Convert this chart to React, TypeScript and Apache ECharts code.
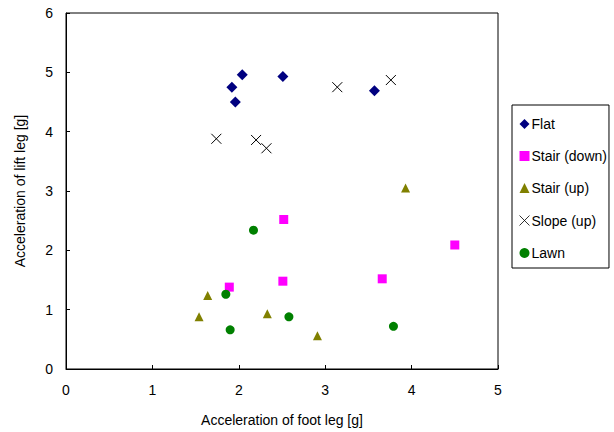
import React, { useEffect, useRef } from "react";
import * as echarts from "echarts";

const flat: [number, number][] = [[2.04, 4.96], [1.92, 4.75], [1.96, 4.5], [2.51, 4.93], [3.57, 4.69]];
const stairDown: [number, number][] = [[2.52, 2.52], [4.5, 2.09], [1.89, 1.38], [2.51, 1.48], [3.66, 1.52]];
const stairUp: [number, number][] = [[3.93, 3.05], [1.64, 1.24], [1.54, 0.88], [2.33, 0.93], [2.91, 0.56]];
const slopeUp: [number, number][] = [[1.74, 3.88], [2.2, 3.86], [2.32, 3.72], [3.14, 4.75], [3.76, 4.87]];
const lawn: [number, number][] = [[2.17, 2.34], [1.85, 1.26], [1.9, 0.66], [2.58, 0.88], [3.79, 0.72]];

const seriesNames = ["Flat", "Stair (down)", "Stair (up)", "Slope (up)", "Lawn"];

export default function App() {
  const ref = useRef<HTMLDivElement>(null);
  useEffect(() => {
    const chart = echarts.init(ref.current!, null, { renderer: "svg" });
    const font = "Liberation Sans, Arial, sans-serif";
    const cross = "path://M0,0 L10,10 M10,0 L0,10";
    const fs = 14;
    chart.setOption({
      animation: false,
      backgroundColor: "#fff",
      textStyle: { fontFamily: font },
      grid: {
        left: 66, top: 13, width: 432, height: 356,
        show: true, borderColor: "#000", borderWidth: 1, backgroundColor: "transparent",
      },
      xAxis: {
        type: "value", min: 0, max: 5, interval: 1,
        name: "Acceleration of foot leg [g]", nameLocation: "middle", nameGap: 44,
        nameTextStyle: { fontSize: fs, color: "#000", fontFamily: font },
        axisLine: { show: true, lineStyle: { color: "#000" } },
        axisTick: { show: true, inside: true, length: 4, lineStyle: { color: "#000" } },
        axisLabel: { fontSize: fs, color: "#000", margin: 14, fontFamily: font },
        splitLine: { show: false },
      },
      yAxis: {
        type: "value", min: 0, max: 6, interval: 1,
        name: "Acceleration of lift leg [g]", nameLocation: "middle", nameGap: 39,
        nameTextStyle: { fontSize: fs, color: "#000", fontFamily: font },
        axisLine: { show: true, lineStyle: { color: "#000" } },
        axisTick: { show: true, inside: true, length: 4, lineStyle: { color: "#000" } },
        axisLabel: { fontSize: fs, color: "#000", margin: 13, fontFamily: font },
        splitLine: { show: false },
      },
      legend: {
        orient: "vertical", left: 512, top: 105,
        borderColor: "#000", borderWidth: 1,
        padding: [12, 2, 8, 5],
        itemGap: 18, itemWidth: 10, itemHeight: 10,
        textStyle: { fontSize: fs, color: "#000", fontFamily: font, padding: [0, 0, 0, -3] },
        data: seriesNames.map((n, i) =>
          i === 3 ? { name: n, itemStyle: { borderWidth: 0.8 } } : { name: n }
        ),
      },
      series: [
        { name: seriesNames[0], type: "scatter", data: flat, symbol: "diamond", symbolSize: 11, itemStyle: { color: "#000080", opacity: 1 } },
        { name: seriesNames[1], type: "scatter", data: stairDown, symbol: "rect", symbolSize: 9, itemStyle: { color: "#FF00FF", opacity: 1 } },
        { name: seriesNames[2], type: "scatter", data: stairUp, symbol: "triangle", symbolSize: 9, itemStyle: { color: "#808000", opacity: 1 } },
        { name: seriesNames[3], type: "scatter", data: slopeUp, symbol: cross, symbolSize: 10, itemStyle: { color: "none", borderColor: "#000", borderWidth: 1, opacity: 1 } },
        { name: seriesNames[4], type: "scatter", data: lawn, symbol: "circle", symbolSize: 9, itemStyle: { color: "#008000", opacity: 1 } },
      ],
    });
    return () => chart.dispose();
  }, []);
  return <div ref={ref} style={{ width: 614, height: 432, position: "absolute", left: 0, top: 0 }} />;
}
